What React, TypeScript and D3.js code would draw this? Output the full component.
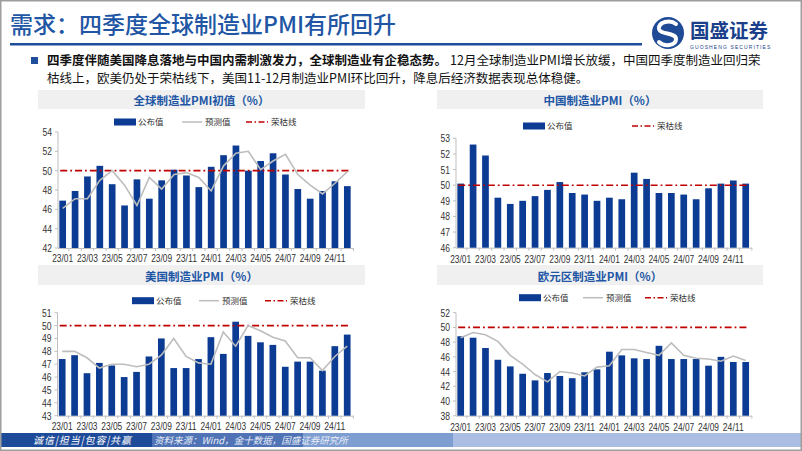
import React from 'react';
import * as d3 from 'd3';

const months = ['23/01','23/02','23/03','23/04','23/05','23/06','23/07','23/08','23/09','23/10','23/11','23/12','24/01','24/02','24/03','24/04','24/05','24/06','24/07','24/08','24/09','24/10','24/11','24/12'];
const tickMonths = ['23/01','23/03','23/05','23/07','23/09','23/11','24/01','24/03','24/05','24/07','24/09','24/11'];

const globalActual = [46.9,47.9,49.4,50.5,48.6,46.4,49.1,47.1,49.0,50.1,49.5,48.3,50.4,51.6,52.6,50.0,51.0,51.8,49.6,48.1,47.1,47.9,48.9,48.4];
const globalForecast = [46.1,47.1,47.1,49.0,50.0,48.5,46.4,49.3,48.1,49.6,49.8,49.3,47.9,50.5,51.8,52.0,50.1,51.0,51.7,49.6,48.5,47.6,48.7,49.9];
const chinaActual = [50.1,52.6,51.9,49.2,48.8,49.0,49.3,49.7,50.2,49.5,49.4,49.0,49.2,49.1,50.8,50.4,49.5,49.5,49.4,49.1,49.8,50.1,50.3,50.1];
const usActual = [47.4,47.7,46.3,47.1,46.9,46.0,46.4,47.6,49.0,46.7,46.7,47.4,49.1,47.8,50.3,49.2,48.7,48.5,46.8,47.2,47.2,46.5,48.4,49.3];
const usForecast = [48.0,48.0,47.5,46.7,47.0,47.0,46.8,47.0,47.7,49.0,47.6,47.1,47.0,49.5,48.4,50.0,49.6,49.1,48.8,47.5,47.5,46.5,47.6,48.4];
const euroActual = [48.8,48.6,47.2,45.6,44.7,43.7,42.8,43.8,43.4,43.1,43.9,44.3,46.7,46.2,45.8,45.7,47.5,45.7,45.7,45.7,44.8,46.0,45.3,45.3];
const euroForecast = [48.6,49.3,49.0,48.1,46.2,45.0,43.6,42.6,44.0,43.8,43.4,44.6,44.8,47.0,47.0,46.6,46.2,47.9,46.2,45.8,45.7,45.4,46.1,45.5];
const boomLine = 50;

const BLUE_BAR = '#0b3b93';
const TITLE_BLUE = '#2156a5';
const GRAY_LINE = '#bdbdbd';
const RED = '#c00000';
const CJK = '"Noto Sans CJK SC", "Noto Sans", sans-serif';
const NUM = '"Liberation Sans", Arial, sans-serif';

type PanelProps = {
  title: string;
  actual: number[];
  forecast?: number[];
  domain: [number, number];
  tickStep: number;
  x0: number; x1: number;
  yTop: number; yBottom: number;
  titleBar: [number, number, number, number];
  titleY: number;
  legendY: number;
  legendX: number[];
  labelY: number;
};

function Panel(p: PanelProps) {
  const x = d3.scaleBand<string>().domain(months).range([p.x0, p.x1]).paddingInner(0.46).paddingOuter(0.23);
  const step = x.step();
  const y = d3.scaleLinear().domain(p.domain).range([p.yBottom, p.yTop]);
  const ticks = d3.range(p.domain[0], p.domain[1] + 0.001, p.tickStep);
  const cx = (m: string) => (x(m) as number) + x.bandwidth() / 2;
  const line = d3.line<number>().x((_, i) => cx(months[i])).y((v) => y(v));
  const axisX = p.x0 + 1.5;
  const dash = '7,3,1.8,3';
  const items: React.ReactNode[] = [];
  let li = 0;
  items.push(
    <g key="lb">
      <rect x={p.legendX[li]} y={p.legendY - 3.5} width={22} height={7} fill={BLUE_BAR} />
      <text x={p.legendX[li] + 24} y={p.legendY + 3} fontSize={8.5} fill="#333" fontFamily={CJK}>公布值</text>
    </g>
  );
  li++;
  if (p.forecast) {
    items.push(
      <g key="lf">
        <line x1={p.legendX[li]} x2={p.legendX[li] + 20} y1={p.legendY} y2={p.legendY} stroke={GRAY_LINE} strokeWidth={1.5} />
        <text x={p.legendX[li] + 23} y={p.legendY + 3} fontSize={8.5} fill="#333" fontFamily={CJK}>预测值</text>
      </g>
    );
    li++;
  }
  items.push(
    <g key="lr">
      <line x1={p.legendX[li]} x2={p.legendX[li] + 22} y1={p.legendY} y2={p.legendY} stroke={RED} strokeWidth={1.6} strokeDasharray="6,2.5,1.5,2.5" />
      <text x={p.legendX[li] + 25} y={p.legendY + 3} fontSize={8.5} fill="#333" fontFamily={CJK}>荣枯线</text>
    </g>
  );

  return (
    <g>
      <rect x={p.titleBar[0]} y={p.titleBar[1]} width={p.titleBar[2]} height={p.titleBar[3]} fill="#f0f0f0" />
      <text x={p.titleBar[0] + p.titleBar[2] / 2} y={p.titleY} textAnchor="middle" dominantBaseline="central" fontSize={11.5} fontWeight="bold" fill={TITLE_BLUE} fontFamily={CJK}>{p.title}</text>
      {items}
      <line x1={axisX} x2={axisX} y1={p.yTop} y2={p.yBottom} stroke="#bfbfbf" strokeWidth={1} />
      <line x1={axisX} x2={p.x1} y1={p.yBottom + 0.5} y2={p.yBottom + 0.5} stroke="#bfbfbf" strokeWidth={1} />
      {ticks.map((t) => (
        <g key={'yt' + t}>
          <line x1={axisX - 3} x2={axisX} y1={y(t)} y2={y(t)} stroke="#bfbfbf" />
          <text x={axisX - 6} y={y(t)} textAnchor="end" dominantBaseline="central" fontSize={10.5} fill="#333" fontFamily={NUM}
            textLength={9.5} lengthAdjust="spacingAndGlyphs">{t}</text>
        </g>
      ))}
      {months.map((m, i) => (
        <line key={'xt' + m} x1={p.x0 + step * (i + 1)} x2={p.x0 + step * (i + 1)} y1={p.yBottom} y2={p.yBottom + 3} stroke="#bfbfbf" />
      ))}
      {tickMonths.map((m) => (
        <text key={'xl' + m} x={cx(m)} y={p.labelY} textAnchor="middle" dominantBaseline="central" fontSize={10.5} fill="#333" fontFamily={NUM}
          textLength={21} lengthAdjust="spacingAndGlyphs">{m}</text>
      ))}
      {p.actual.map((v, i) => (
        <rect key={'b' + i} x={x(months[i]) as number} y={y(v)} width={x.bandwidth()} height={y(p.domain[0]) - y(v)} fill={BLUE_BAR} />
      ))}
      <line x1={p.x0 + step * 0.3} x2={p.x1 - step * 0.3} y1={y(boomLine)} y2={y(boomLine)} stroke={RED} strokeWidth={1.6} strokeDasharray={dash} />
      {p.forecast && (
        <path d={line(p.forecast) || ''} fill="none" stroke={GRAY_LINE} strokeWidth={1.6} />
      )}
    </g>
  );
}

function Logo() {
  return (
    <g>
      <circle cx={668} cy={33} r={16} fill="#1f4a96" />
      <path d="M676,24 C670,19 658,22 659,29 C660,35 676,32 676,39 C676,46 664,47 659,42" fill="none" stroke="#fff" strokeWidth={4} strokeLinecap="round" />
      <text x={690} y={37.5} fontSize={19.5} fontWeight="bold" fill="#1c3f8c" fontFamily={CJK}>国盛证券</text>
      <text x={690} y={49} fontSize={5} fill="#1c3f8c" fontFamily={NUM} letterSpacing={1.1}>GUOSHENG SECURITIES</text>
    </g>
  );
}

export default function App() {
  return (
    <div style={{ position: 'fixed', left: 0, top: 0 }}>
      <svg width={802} height={451} viewBox="0 0 802 451" style={{ display: 'block', background: '#fff' }}>
        <rect x={0} y={0} width={802} height={451} fill="#fff" />
        <text x={10} y={33} fontSize={23} fill={TITLE_BLUE} fontFamily={CJK} fontWeight={500}>需求：四季度全球制造业PMI有所回升</text>
        <rect x={10} y={43} width={632} height={2.5} fill="#1f4e9c" />
        <Logo />
        <rect x={31} y={57} width={7} height={7} fill="#1f4e9c" />
        <text x={47} y={65} fontSize={12.5} fill="#111" fontWeight="bold" fontFamily={CJK}>四季度伴随美国降息落地与中国内需刺激发力，全球制造业有企稳态势。</text>
        <text x={450} y={65} fontSize={12.5} fill="#111" fontFamily={CJK}>12月全球制造业PMI增长放缓，中国四季度制造业回归荣</text>
        <text x={47} y={83.2} fontSize={12.5} fill="#111" fontFamily={CJK}>枯线上，欧美仍处于荣枯线下，美国11-12月制造业PMI环比回升，降息后经济数据表现总体稳健。</text>

        <Panel title="全球制造业PMI初值（%）" actual={globalActual} forecast={globalForecast} domain={[42, 54]} tickStep={2}
          x0={56.5} x1={353.5} yTop={132} yBottom={248} titleBar={[38, 90, 327, 19]} titleY={100} legendY={122}
          legendX={[114, 182, 246]} labelY={258} />
        <Panel title="中国制造业PMI（%）" actual={chinaActual} domain={[46, 53]} tickStep={1}
          x0={454.5} x1={751.9} yTop={138.3} yBottom={247.7} titleBar={[437, 90, 326, 19]} titleY={100} legendY={126}
          legendX={[523, 632]} labelY={258.5} />
        <Panel title="美国制造业PMI（%）" actual={usActual} forecast={usForecast} domain={[43, 51]} tickStep={1}
          x0={56} x1={353.4} yTop={312.7} yBottom={415.7} titleBar={[38, 265, 327, 20]} titleY={275.5} legendY={300.7}
          legendX={[132, 199, 265]} labelY={426} />
        <Panel title="欧元区制造业PMI（%）" actual={euroActual} forecast={euroForecast} domain={[38, 52]} tickStep={2}
          x0={454.5} x1={751.9} yTop={312.7} yBottom={415.7} titleBar={[437, 265, 326, 20]} titleY={275.5} legendY={297.7}
          legendX={[519, 583, 645]} labelY={426.7} />

        <rect x={0} y={433} width={152} height={14} fill="#1e4b99" />
        <rect x={152} y={433} width={151} height={14} fill="#5073b5" />
        <rect x={303} y={433} width={150} height={14} fill="#7e9dd1" />
        <rect x={453} y={433} width={349} height={14} fill="#a9bee2" />
        <text x={33} y={443.5} fontSize={10} fill="#fff" fontStyle="italic" fontFamily={CJK} letterSpacing={1}>诚信|担当|包容|共赢</text>
        <text x={154} y={443.5} fontSize={9.5} fill="#e8eef8" fontStyle="italic" fontFamily={CJK}>资料来源：Wind，金十数据，国盛证券研究所</text>
        <rect x={0.75} y={0.75} width={800.5} height={449.5} fill="none" stroke="#9e9e9e" strokeWidth={1.5} />
      </svg>
    </div>
  );
}
